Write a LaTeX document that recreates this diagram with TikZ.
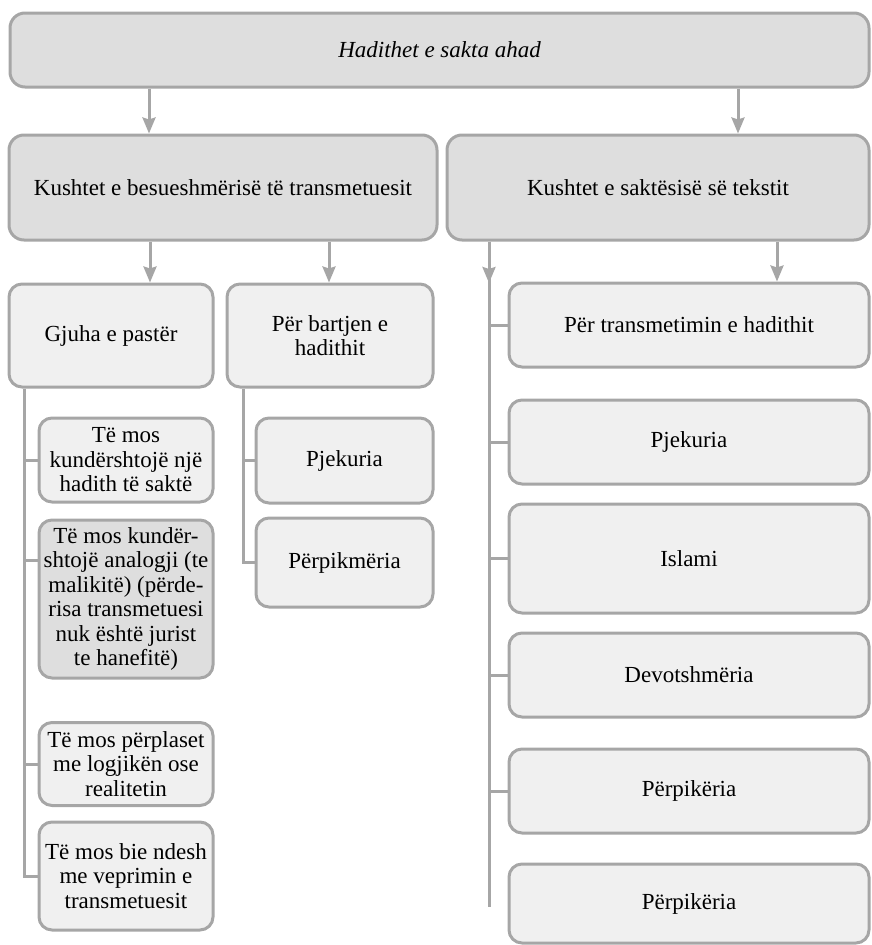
\documentclass[tikz,border=0pt]{standalone}
\usepackage{fontspec}
\setmainfont{Liberation Serif}
\usepackage{xcolor}
\usepackage{tikz}
\usetikzlibrary{arrows.meta,positioning}
\definecolor{edgegray}{HTML}{A6A6A6}
\definecolor{darkfill}{HTML}{DEDEDE}
\definecolor{lightfill}{HTML}{F0F0F0}

\begin{document}
\begin{tikzpicture}[x=1pt, y=-1pt,
  box/.style={draw=edgegray, line width=3pt, rounded corners=15pt, align=center, fill=darkfill, inner sep=1pt, font=\fontsize{23}{24.5}\selectfont},
  subbox/.style={box, rounded corners=13pt, fill=lightfill},
  arrow/.style={-{Stealth[length=16pt, width=13pt, inset=2pt]}, draw=edgegray, line width=3pt},
  line/.style={draw=edgegray, line width=3pt}
]
\useasboundingbox (0,0) rectangle (871,945);
% top level
\node[box, minimum width=859pt, minimum height=74pt] (top) at (439.5,50) {\itshape Hadithet e sakta ahad};
\node[box, minimum width=428pt, minimum height=105pt] (trans) at (223,187.5) {Kushtet e besueshmërisë të transmetuesit};
\node[box, minimum width=422pt, minimum height=105pt] (text) at (658,187.5) {Kushtet e saktësisë së tekstit};
% left branch
\node[subbox, minimum width=204pt, minimum height=103pt] (gjuha) at (111,335.5) {Gjuha e pastër};
\node[subbox, minimum width=174pt, minimum height=84pt] (hadith) at (126,460) {Të mos\\kundërshtojë një\\hadith të saktë};
\node[subbox, fill=darkfill, minimum width=174pt, minimum height=158pt] (analog) at (126,599) {Të mos kundër-\\shtojë analogji (te\\malikitë) (përde-\\risa transmetuesi\\nuk është jurist\\te hanefitë)};
\node[subbox, minimum width=174pt, minimum height=83pt] (logjika) at (126,764) {Të mos përplaset\\me logjikën ose\\realitetin};
\node[subbox, minimum width=174pt, minimum height=108pt] (veprimi) at (126,876) {Të mos bie ndesh\\me veprimin e\\transmetuesit};
% middle branch
\node[subbox, minimum width=206pt, minimum height=103pt] (bartja) at (330,335.5) {Për bartjen e\\hadithit};
\node[subbox, minimum width=177pt, minimum height=85pt] (pjek) at (344.5,460.5) {Pjekuria};
\node[subbox, minimum width=177pt, minimum height=89pt] (perpik) at (344.5,562.5) {Përpikmëria};
% right branch
\node[subbox, minimum width=360pt, minimum height=84pt] (transm) at (689,325) {Për transmetimin e hadithit};
\node[subbox, minimum width=360pt, minimum height=84pt] (rpjek) at (689,442) {Pjekuria};
\node[subbox, minimum width=360pt, minimum height=109pt] (islami) at (689,558.5) {Islami};
\node[subbox, minimum width=360pt, minimum height=84pt] (devot) at (689,675) {Devotshmëria};
\node[subbox, minimum width=360pt, minimum height=84pt] (rperpik) at (689,791) {Përpikëria};
\node[subbox, minimum width=360pt, minimum height=79pt] (rperpik2) at (689,903.5) {Përpikëria};
\coordinate (rtip) at (489,283);
\coordinate (rend) at (489,907);
% connectors
\draw[arrow] (149,0 |- top.south) -- (149,0 |- trans.north);
\draw[arrow] (738,0 |- top.south) -- (738,0 |- text.north);
\draw[arrow] (150,0 |- trans.south) -- (150,0 |- gjuha.north);
\draw[arrow] (329,0 |- trans.south) -- (329,0 |- bartja.north);
\draw[arrow] (777,0 |- text.south) -- (777,0 |- transm.north);
\draw[line] (rtip |- text.south) -- (rend);
\draw[arrow] (rtip |- text.south) -- (rtip);
\draw[line] (transm.west) -- (transm.west -| rend);
\draw[line] (rpjek.west) -- (rpjek.west -| rend);
\draw[line] (islami.west) -- (islami.west -| rend);
\draw[line] (devot.west) -- (devot.west -| rend);
\draw[line] (rperpik.west) -- (rperpik.west -| rend);
\draw[line] (24,0 |- gjuha.south) |- (veprimi.west);
\draw[line] (hadith.west) -- (hadith.west -| 24,0);
\draw[line] (24,560) -- (24,560 -| analog.west);
\draw[line] (logjika.west) -- (logjika.west -| 24,0);
\draw[line] (243,0 |- bartja.south) |- (perpik.west);
\draw[line] (pjek.west) -- (pjek.west -| 243,0);
\end{tikzpicture}
\end{document}
